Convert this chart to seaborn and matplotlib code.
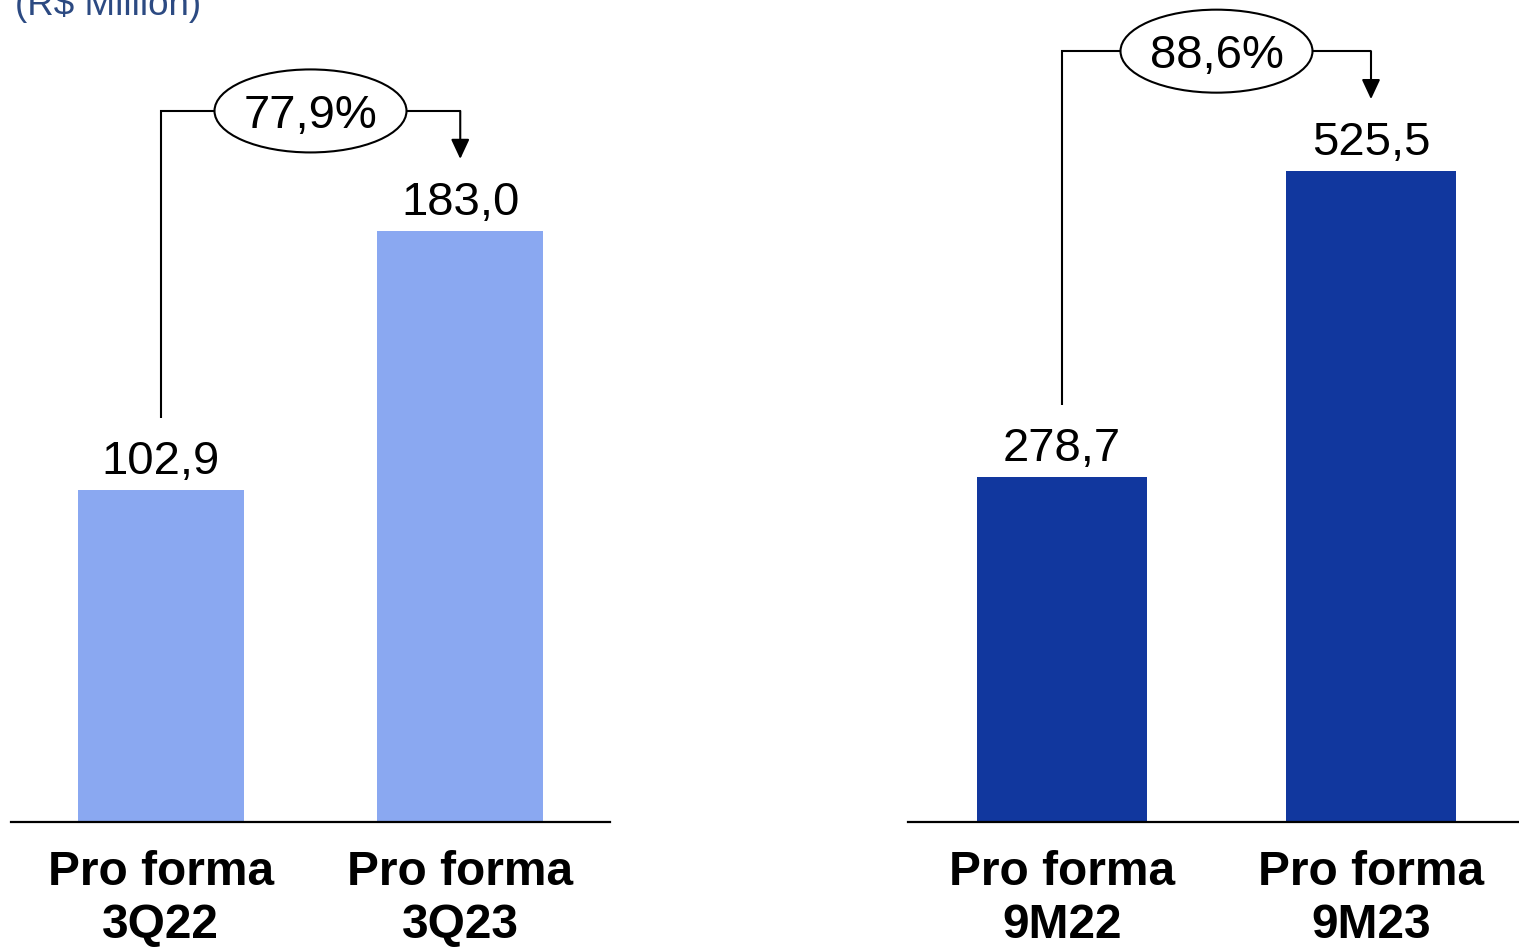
import matplotlib
matplotlib.use("Agg")
import matplotlib.pyplot as plt
from matplotlib.patches import Ellipse
import seaborn as sns
import pandas as pd

# Quarterly and year-to-date pro forma figures (R$ million)
quarter_labels = ["Pro forma\n3Q22", "Pro forma\n3Q23"]
quarter_values = [102.9, 183.0]
ytd_labels = ["Pro forma\n9M22", "Pro forma\n9M23"]
ytd_values = [278.7, 525.5]
growth_pct = [77.9, 88.6]

sns.set_theme(style="white")
plt.rcParams["font.family"] = ["Liberation Sans", "DejaVu Sans"]

W, H = 1519, 947
fig = plt.figure(figsize=(W / 100, H / 100), dpi=100)

light_blue = "#8AA8F1"
dark_blue = "#11379E"
title_color = "#2C4A82"


def fmt(v):
    return f"{v:.1f}".replace(".", ",")


def panel(rect, labels, values, ymax, color, growth, width):
    ax = fig.add_axes(rect)
    df = pd.DataFrame({"period": labels, "value": values})
    sns.barplot(data=df, x="period", y="value", ax=ax, color=color,
                saturation=1, width=width, edgecolor="none")
    ax.set_xlim(-0.5, 1.5)
    ax.set_ylim(0, ymax)
    ax.set_xlabel("")
    ax.set_ylabel("")
    ax.set_yticks([])
    for s in ["top", "left", "right"]:
        ax.spines[s].set_visible(False)
    ax.spines["bottom"].set_color("black")
    ax.spines["bottom"].set_linewidth(1.6)
    ax.tick_params(axis="x", length=0, pad=20)
    for lab in ax.get_xticklabels():
        lab.set_fontsize(34.5)
        lab.set_fontweight("bold")
        lab.set_color("black")
        lab.set_linespacing(1.24)

    # pixel-to-data conversion
    bb = ax.get_position()
    ppu_y = bb.height * H / ymax
    ppu_x = bb.width * W / 2.0

    def py(px):
        return px / ppu_y

    for i, v in enumerate(values):
        ax.text(i, v + py(16), fmt(v), ha="center", va="baseline",
                fontsize=34, color="black")

    v0, v1 = values
    y_low = v0 + py(72)
    y_top = v1 + py(120)
    y_tip = v1 + py(72)
    ell_w = 192 / ppu_x
    ell_h = py(83)
    lw = 1.5
    ax.plot([0, 0, 0.5 - ell_w / 2], [y_low, y_top, y_top], color="black",
            lw=lw, solid_capstyle="butt", solid_joinstyle="miter", clip_on=False)
    ax.plot([0.5 + ell_w / 2, 1], [y_top, y_top], color="black", lw=lw,
            solid_capstyle="butt", clip_on=False)
    ax.annotate("", xy=(1, y_tip), xytext=(1, y_top),
                arrowprops=dict(arrowstyle="-|>,head_length=0.6,head_width=0.28",
                                mutation_scale=20, lw=lw, color="black",
                                shrinkA=0, shrinkB=0),
                annotation_clip=False)
    ax.add_patch(Ellipse((0.5, y_top), ell_w, ell_h, facecolor="white",
                         edgecolor="black", lw=lw, clip_on=False, zorder=5))
    ax.text(0.5, y_top - py(17), f"{growth:.1f}%".replace(".", ","),
            ha="center", va="baseline", fontsize=34, color="black", zorder=6)
    return ax


bottom = (H - 822) / H
height = 822 / H
panel([11 / W, bottom, 599 / W, height], quarter_labels, quarter_values,
      254.5, light_blue, growth_pct[0], 0.555)
panel([907.5 / W, bottom, 618 / W, height], ytd_labels, ytd_values,
      663.7, dark_blue, growth_pct[1], 0.553)

fig.text(15 / W, 1 - 15 / H, "(R$ Million)", ha="left", va="baseline",
         fontsize=26.5, color=title_color)

fig.savefig("out.png", dpi=100)
